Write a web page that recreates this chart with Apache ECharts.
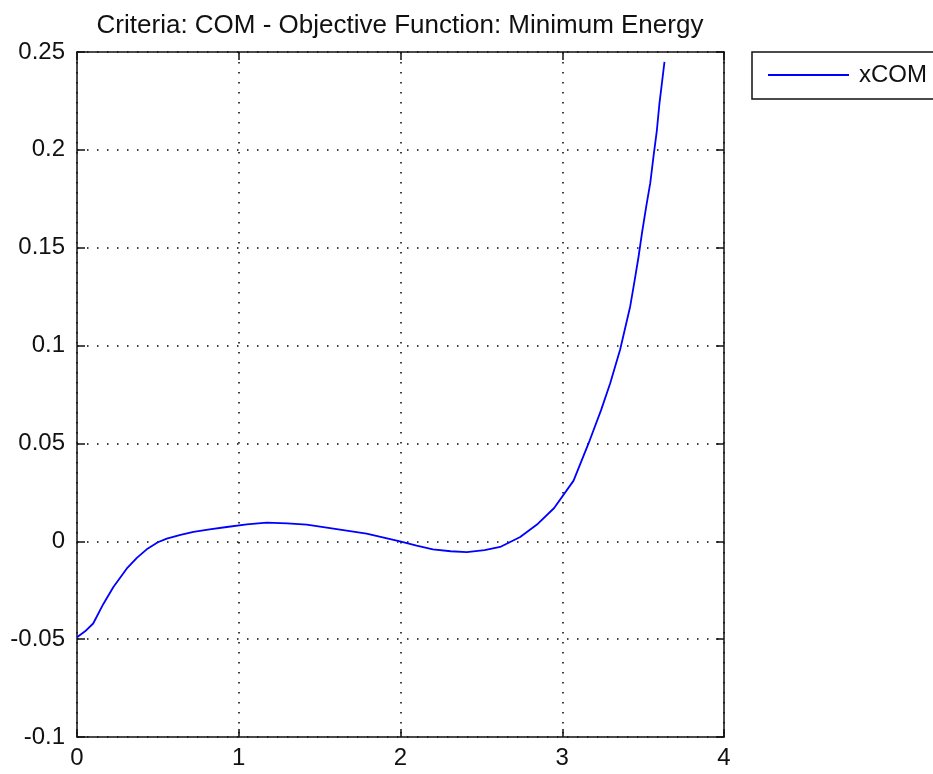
<!DOCTYPE html>
<html>
<head>
<meta charset="utf-8">
<script src="https://cdn.jsdelivr.net/npm/echarts@6/dist/echarts.min.js"></script>
<style>
  html, body { margin: 0; padding: 0; background: #fff; }
  #chart { width: 933px; height: 774px; }
</style>
</head>
<body>
<div id="chart"></div>
<script>
// Time samples and horizontal centre-of-mass trajectory
const timeValues = [0, 0.05, 0.1, 0.163, 0.225, 0.307, 0.37, 0.431, 0.5, 0.555, 0.64, 0.72, 0.82, 0.926, 1.05, 1.173, 1.3, 1.42, 1.585, 1.79, 1.997, 2.1, 2.2, 2.31, 2.41, 2.52, 2.616, 2.74, 2.85, 2.95, 3.07, 3.17, 3.24, 3.296, 3.358, 3.42, 3.445, 3.471, 3.492, 3.519, 3.544, 3.564, 3.585, 3.601, 3.616, 3.632];
const xcomValues = [-0.049, -0.046, -0.042, -0.032, -0.0234, -0.014, -0.0085, -0.0041, -0.0005, 0.0014, 0.0033, 0.0048, 0.0061, 0.0073, 0.0086, 0.0095, 0.0092, 0.0085, 0.0065, 0.0039, 0, -0.0022, -0.0041, -0.0051, -0.0055, -0.0045, -0.0029, 0.0022, 0.009, 0.017, 0.031, 0.0516, 0.067, 0.0806, 0.098, 0.120, 0.132, 0.145, 0.157, 0.171, 0.183, 0.1965, 0.210, 0.2238, 0.234, 0.245];
const xTicks = [0, 1, 2, 3, 4];
const yTicks = [-0.1, -0.05, 0, 0.05, 0.1, 0.15, 0.2, 0.25];
const seriesName = 'xCOM';
const chartTitle = 'Criteria: COM - Objective Function: Minimum Energy';

const FONT = '"Liberation Sans", Arial, sans-serif';
const dotted = { color: '#000', width: 1.5, type: [1.5, 8.5] };
const points = timeValues.map((t, i) => [t, xcomValues[i]]);

const baseX = {
  type: 'value', min: xTicks[0], max: xTicks[xTicks.length - 1], interval: 1,
  axisLine: { show: true, onZero: false, lineStyle: { color: '#111', width: 1.5 } },
  axisTick: { show: true, inside: true, length: 8, lineStyle: { color: '#111', width: 1.5 } }
};
const baseY = {
  type: 'value', min: yTicks[0], max: yTicks[yTicks.length - 1], interval: 0.05,
  axisLine: { show: true, onZero: false, lineStyle: { color: '#111', width: 1.5 } },
  axisTick: { show: true, inside: true, length: 8, lineStyle: { color: '#111', width: 1.5 } }
};

const chart = echarts.init(document.getElementById('chart'), null, { renderer: 'canvas' });
chart.setOption({
  backgroundColor: '#fff',
  animation: false,
  title: {
    text: chartTitle, left: 395, top: 8, textAlign: 'center',
    textStyle: { fontFamily: FONT, fontSize: 26, fontWeight: 'normal', color: '#111' }
  },
  legend: {
    data: [{ name: seriesName, icon: 'path://M0,0H81V2H0Z' }],
    left: 752, top: 52, orient: 'vertical',
    itemWidth: 81, itemHeight: 24, itemGap: 0,
    padding: [11, 40, 12, 16],
    borderColor: '#111', borderWidth: 1.5, backgroundColor: '#fff',
    textStyle: { fontFamily: FONT, fontSize: 24, color: '#111', padding: [0, 0, 0, 5] }
  },
  grid: { left: 77, top: 52, width: 647, height: 685, containLabel: false },
  xAxis: [
    Object.assign({}, baseX, {
      position: 'bottom',
      axisLabel: { fontFamily: FONT, fontSize: 24, color: '#111', margin: 9,
        formatter: v => String(v) },
      splitLine: { show: true, lineStyle: dotted }
    }),
    Object.assign({}, baseX, {
      position: 'top', axisLabel: { show: false }, splitLine: { show: false }
    })
  ],
  yAxis: [
    Object.assign({}, baseY, {
      position: 'left',
      axisLabel: { fontFamily: FONT, fontSize: 24, color: '#111', margin: 12,
        formatter: v => String(Math.round(v * 100) / 100) },
      splitLine: { show: true, lineStyle: dotted }
    }),
    Object.assign({}, baseY, {
      position: 'right', axisLabel: { show: false }, splitLine: { show: false }
    })
  ],
  series: [{
    name: seriesName, type: 'line', data: points,
    xAxisIndex: 0, yAxisIndex: 0,
    symbol: 'none', smooth: false,
    lineStyle: { color: '#0000ff', width: 1.8 },
    itemStyle: { color: '#0000ff' }
  }]
});
</script>
</body>
</html>
